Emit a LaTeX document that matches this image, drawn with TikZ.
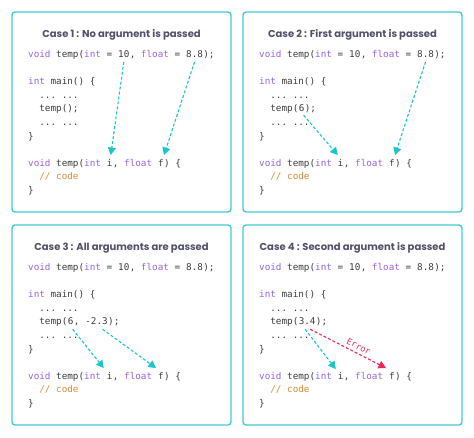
\documentclass[tikz,border=0pt]{standalone}
\usepackage{fontspec}
\setmonofont{DejaVu Sans Mono}
\newfontfamily\titlefont{Poppins}
\usetikzlibrary{arrows.meta}

\definecolor{frameteal}{HTML}{3FCCD4}
\definecolor{arrowteal}{HTML}{1DC4CC}
\definecolor{errred}{HTML}{F0285A}
\definecolor{titlegrey}{HTML}{50506A}
\definecolor{codegrey}{HTML}{3C3C3C}
\definecolor{kwpurple}{HTML}{9A62E2}
\definecolor{cmtorange}{HTML}{DC8A36}

\newcommand\kwd[1]{\textcolor{kwpurple}{#1}}
\newcommand\spc{\hphantom{0}}
\newcommand\codefont{\ttfamily\fontsize{9.3}{11}\selectfont}

\tikzset{
    panel/.style={draw=frameteal, line width=1.4pt, rounded corners=3pt},
    casetitle/.style={font=\titlefont\bfseries\fontsize{10}{12}\selectfont, text=titlegrey, anchor=base},
    code/.style={font=\codefont, text=codegrey, inner sep=0pt, anchor=base west},
    pass/.style={draw=arrowteal, line width=1.1pt, dash pattern=on 3pt off 2pt, -{Triangle[width=8pt,length=7.5pt]}},
    fail/.style={pass, draw=errred},
}

\begin{document}
\begin{tikzpicture}[x=1pt,y=-1pt]
    \useasboundingbox (0,0) rectangle (474,437);
    % the four cases share the frame and most of the code
    \foreach \p/\px/\py/\ttl in {1/12/12/{Case 1 : No argument is passed},
        2/243/12/{Case 2 : First argument is passed},
        3/12/225/{Case 3 : All arguments are passed},
        4/243/225/{Case 4 : Second argument is passed}}{
    \begin{scope}[shift={(\px,\py)}]
    \draw[panel] (0,0) rectangle (219,200);
    \node[casetitle] (title\p) at (109.5,25.5) {\ttl};
    \node[code] (a\p) at (16,45.5) {\kwd{void} temp(\kwd{int} =\spc};
    \node[code] (ten\p) at (a\p.base east) {10};
    \node[code] (b\p) at (ten\p.base east) {,\ \kwd{float} =\spc};
    \node[code] (ee\p) at (b\p.base east) {8.8};
    \node[code] (c\p) at (ee\p.base east) {);};
    \node[code] (main\p) at (16,72.7) {\kwd{int} main() \{};
    \node[code] (dotsa\p) at (16,86.3) {\ \ ... ...};
    \node[code] (dotsb\p) at (16,113.5) {\ \ ... ...};
    \node[code] (endmain\p) at (16,127.1) {\}};
    \node[code] (d\p) at (16,154.3) {\kwd{void} temp(\kwd{int}\spc};
    \node[code] (i\p) at (d\p.base east) {i};
    \node[code] (e\p) at (i\p.base east) {,\ \kwd{float}\spc};
    \node[code] (f\p) at (e\p.base east) {f};
    \node[code] (g\p) at (f\p.base east) {) \{};
    \node[code] (cmt\p) at (16,167.9) {\ \ \textcolor{cmtorange}{// code}};
    \node[code] (endfn\p) at (16,181.5) {\}};
    \end{scope}
    }

    % the calls
    \node[code] (call1) at (28,111.9) {\ \ temp();};
    \node[code] (call2) at (259,111.9) {\ \ temp(};
    \node[code] (six2) at (call2.base east) {6};
    \node[code] (rest2) at (six2.base east) {);};
    \node[code] (call3) at (28,324.9) {\ \ temp(};
    \node[code] (six3) at (call3.base east) {6};
    \node[code] (comma3) at (six3.base east) {,\spc};
    \node[code] (neg3) at (comma3.base east) {-2.3};
    \node[code] (rest3) at (neg3.base east) {);};
    \node[code] (call4) at (259,324.9) {\ \ temp(};
    \node[code] (half4) at (call4.base east) {3.4};
    \node[code] (rest4) at (half4.base east) {);};

    % case 1
    \draw[pass] ([yshift=-4pt]ten1.south) -- ([xshift=1pt,yshift=4pt]i1.north);
    \draw[pass] ([yshift=-4pt]ee1.south) -- ([xshift=3pt,yshift=4pt]f1.north);
    % case 2
    \draw[pass] ([xshift=2pt,yshift=-3pt]six2.south) -- ([xshift=-3pt,yshift=4pt]i2.north);
    \draw[pass] ([yshift=-4pt]ee2.south) -- ([xshift=3pt,yshift=4pt]f2.north);
    % case 3
    \draw[pass] ([xshift=2pt,yshift=-4pt]six3.south) -- ([xshift=-6pt,yshift=4pt]i3.north);
    \draw[pass] ([xshift=6pt,yshift=-4pt]neg3.south) -- ([xshift=-5pt,yshift=4pt]f3.north);
    % case 4
    \draw[pass] ([xshift=-2pt,yshift=-4pt]half4.south) -- ([xshift=-5pt,yshift=3pt]i4.north);
    \draw[fail] ([xshift=3pt,yshift=-4pt]half4.south) -- ([xshift=-6pt,yshift=4pt]f4.north)
        node[pos=0.6, sloped, above=3pt, inner sep=0pt, font=\ttfamily\fontsize{8.5}{10}\selectfont, text=errred] (err) {Error};
\end{tikzpicture}
\end{document}
